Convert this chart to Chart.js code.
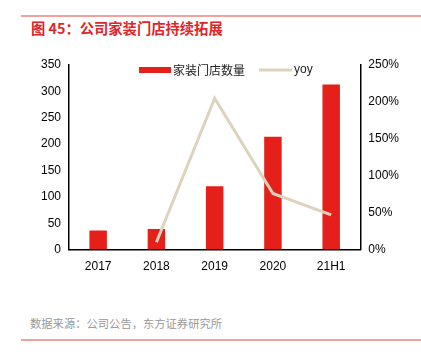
<!DOCTYPE html>
<html>
<head>
<meta charset="utf-8">
<script src="https://cdn.jsdelivr.net/npm/chart.js@4/dist/chart.umd.min.js"></script>
<style>
  body { margin: 0; width: 421px; height: 364px; background: #fff; position: relative; overflow: hidden;
         font-family: "Liberation Sans", "Noto Sans CJK SC", sans-serif; }
  .rule { position: absolute; left: 21px; right: 0; height: 2px; background: #f0a19b; }
  #title { position: absolute; left: 31px; top: 17px; font-size: 14.3px; font-weight: bold; color: #e0242a;
           font-family: "Noto Sans CJK SC", sans-serif; }
  #source { position: absolute; left: 30px; top: 315px; font-size: 11.3px; color: #999;
            font-family: "Noto Sans CJK SC", sans-serif; }
  #wrap { position: absolute; left: 0; top: 50px; width: 421px; height: 234px; }
</style>
</head>
<body>
<div class="rule" style="top:15px"></div>
<div id="title">图 45：公司家装门店持续拓展</div>
<div id="wrap"><canvas id="chart"></canvas></div>
<div id="source">数据来源：公司公告，东方证券研究所</div>
<div class="rule" style="top:339px"></div>
<script>
// Chart data
const years = ['2017', '2018', '2019', '2020', '21H1'];
const storeCount = [36, 39, 120, 214, 313];
const yoy = [null, 10, 205, 76, 47]; // percent

const barColor = '#e5201b';
const lineColor = '#ddd3bd';

// legend drawn inside the top of the plot area, like the original
const insideLegend = {
    id: 'insideLegend',
    afterDraw(chart) {
        const c = chart.ctx;
        const area = chart.chartArea;
        const y = area.top + 5;
        let x = area.left + 70;
        c.save();
        c.font = '12px "Noto Sans CJK SC", sans-serif';
        c.textBaseline = 'middle';
        c.fillStyle = barColor;
        c.fillRect(x, y - 3, 32, 6);
        x += 34;
        c.fillStyle = '#222';
        c.fillText(chart.data.datasets[1].label, x, y);
        x += c.measureText(chart.data.datasets[1].label).width + 14;
        c.strokeStyle = lineColor;
        c.lineWidth = 3;
        c.beginPath();
        c.moveTo(x, y);
        c.lineTo(x + 33, y);
        c.stroke();
        x += 35;
        c.font = '12px "Liberation Sans", sans-serif';
        c.fillText(chart.data.datasets[0].label, x, y);
        c.restore();
    }
};

const ctx = document.getElementById('chart').getContext('2d');
const chart = new Chart(ctx, {
    data: {
        labels: years,
        datasets: [{
            type: 'line',
            label: 'yoy',
            data: yoy,
            yAxisID: 'y1',
            borderColor: lineColor,
            backgroundColor: lineColor,
            borderWidth: 3,
            pointRadius: 0,
            tension: 0,
            order: 0
        }, {
            type: 'bar',
            label: '家装门店数量',
            data: storeCount,
            yAxisID: 'y',
            backgroundColor: barColor,
            barPercentage: 0.3,
            categoryPercentage: 1,
            order: 1
        }]
    },
    options: {
        responsive: true,
        maintainAspectRatio: false,
        animation: false,
        layout: { padding: { left: 37, right: 18, top: 15, bottom: 0 } },
        plugins: {
            tooltip: { enabled: false },
            legend: { display: false }
        },
        scales: {
            x: {
                grid: { display: false, drawTicks: false },
                border: { color: '#000', width: 1.5 },
                ticks: { color: '#000', font: { size: 12 }, padding: 10 }
            },
            y: {
                position: 'left',
                min: 0, max: 350,
                grid: { display: false, drawTicks: true, tickLength: 4, color: '#000' },
                border: { color: '#000', width: 1.5 },
                ticks: { stepSize: 50, color: '#000', font: { size: 12 }, padding: 4 }
            },
            y1: {
                position: 'right',
                min: 0, max: 250,
                grid: { display: false, drawTicks: true, tickLength: 4, color: '#000' },
                border: { color: '#000', width: 1.5 },
                ticks: {
                    stepSize: 50, color: '#000', font: { size: 12 }, padding: 4,
                    callback: v => v + '%'
                }
            }
        }
    },
    plugins: [insideLegend]
});
</script>
</body>
</html>
